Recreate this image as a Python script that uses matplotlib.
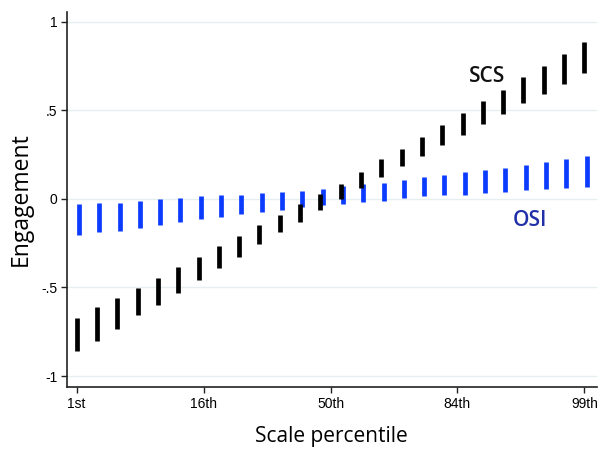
import numpy as np
import matplotlib
matplotlib.use("Agg")
import matplotlib.pyplot as plt

# Positions in z-score units of the scale percentile (26 points from -2 to 2)
x_pos = np.linspace(-2, 2, 26)

scs_low = [-0.859, -0.800, -0.733, -0.657, -0.597, -0.529, -0.459, -0.392, -0.326,
           -0.256, -0.188, -0.132, -0.064, -0.002, 0.060, 0.126, 0.186, 0.245,
           0.305, 0.362, 0.424, 0.480, 0.541, 0.592, 0.650, 0.710]
scs_high = [-0.674, -0.612, -0.561, -0.505, -0.444, -0.386, -0.326, -0.267, -0.207,
            -0.149, -0.089, -0.030, 0.028, 0.085, 0.154, 0.224, 0.284, 0.352,
            0.420, 0.488, 0.555, 0.616, 0.691, 0.751, 0.819, 0.887]

osi_low = [-0.205, -0.188, -0.181, -0.166, -0.147, -0.132, -0.113, -0.104, -0.087,
           -0.072, -0.062, -0.043, -0.034, -0.028, -0.019, -0.009, 0.004, 0.017,
           0.023, 0.023, 0.032, 0.041, 0.051, 0.056, 0.060, 0.069]
osi_high = [-0.028, -0.021, -0.021, -0.011, -0.002, 0.004, 0.015, 0.023, 0.023,
            0.032, 0.038, 0.047, 0.055, 0.073, 0.083, 0.090, 0.107, 0.122,
            0.134, 0.151, 0.166, 0.173, 0.192, 0.207, 0.224, 0.243]

x_ticks = [-2, -1, 0, 1, 2]
x_ticklabels = ["1st", "16th", "50th", "84th", "99th"]
y_ticks = [-1, -0.5, 0, 0.5, 1]
y_ticklabels = ["-1", "-.5", "0", ".5", "1"]

fig = plt.figure(figsize=(6.06, 4.54), dpi=100)
ax = fig.add_axes([0.1106, 0.1476, 0.874, 0.826])

for yv in y_ticks:
    ax.axhline(yv, color="#e6eff0", lw=1.0, zorder=0)

ax.vlines(x_pos + 0.018, osi_low, osi_high, color="#0b3bff", lw=3.4, zorder=2)
ax.vlines(x_pos, scs_low, scs_high, color="black", lw=3.4, zorder=3)

ax.set_xlim(-2.076, 2.097)
ax.set_ylim(-1.062, 1.056)

for s in ["top", "right"]:
    ax.spines[s].set_visible(False)
for s in ["left", "bottom"]:
    ax.spines[s].set_linewidth(1.2)
    ax.spines[s].set_color("#222222")

ax.set_xticks(x_ticks)
ax.set_xticklabels(x_ticklabels, fontsize=10, family="Liberation Sans")
ax.set_yticks(y_ticks)
ax.set_yticklabels(y_ticklabels, fontsize=10, family="Liberation Sans")
ax.tick_params(axis="both", length=4.5, width=1.0, color="#222222", pad=2.5)

ax.set_xlabel("Scale percentile", fontsize=15, family="Open Sans", labelpad=11)
ax.set_ylabel("Engagement", fontsize=16.5, family="Open Sans", labelpad=6)

ax.text(1.23, 0.69, "SCS", fontsize=15, family="Open Sans", fontweight="semibold",
        color="#111111", ha="center", va="center")
ax.text(1.57, -0.12, "OSI", fontsize=15, family="Open Sans", fontweight="semibold",
        color="#2230a8", ha="center", va="center")

fig.savefig("out.png", dpi=100)
